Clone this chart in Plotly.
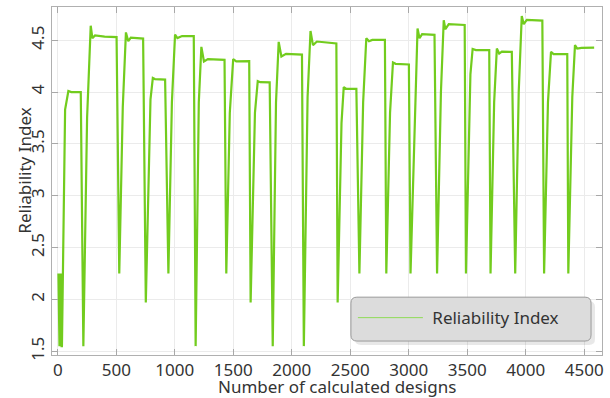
import plotly.graph_objects as go

# x = design number, y = reliability index
designs = [
    5, 8, 11, 14, 17, 20, 23, 26, 29, 32, 35,
    62, 90, 115, 196,
    218, 250, 281, 295, 318, 400, 502,
    525, 555, 582, 602, 624, 729,
    752, 792, 812, 830, 917,
    945, 975, 1002, 1022, 1062, 1162,
    1178, 1205, 1227, 1249, 1283, 1425,
    1440, 1470, 1499, 1525, 1636,
    1648, 1685, 1709, 1730, 1811,
    1837, 1865, 1888, 1911, 1951, 2087,
    2103, 2135, 2160, 2181, 2215, 2381,
    2392, 2425, 2444, 2467, 2552,
    2578, 2610, 2637, 2660, 2688, 2796,
    2808, 2840, 2865, 2888, 3001,
    3015, 3049, 3075, 3092, 3114, 3220,
    3242, 3275, 3299, 3313, 3342, 3478,
    3489, 3527, 3546, 3574, 3688,
    3699, 3730, 3753, 3773, 3796, 3881,
    3910, 3940, 3966, 3983, 4009, 4142,
    4157, 4190, 4216, 4238, 4355,
    4364, 4398, 4421, 4440, 4477, 4585,
]
reliability = [
    2.25, 1.97, 2.25, 1.55, 2.25, 1.55, 2.25, 1.97, 2.25, 1.55, 1.55,
    3.83, 4.01, 4.0, 4.0,
    1.55, 3.75, 4.64, 4.52, 4.545, 4.535, 4.53,
    2.25, 3.85, 4.575, 4.49, 4.525, 4.515,
    1.97, 3.93, 4.135, 4.125, 4.12,
    2.25, 3.9, 4.555, 4.52, 4.54, 4.54,
    1.55, 3.9, 4.436, 4.294, 4.317, 4.31,
    2.25, 3.8, 4.317, 4.295, 4.298,
    1.97, 3.8, 4.106, 4.095, 4.093,
    1.55, 3.9, 4.484, 4.342, 4.368, 4.361,
    1.55, 3.95, 4.589, 4.452, 4.487, 4.468,
    1.97, 3.7, 4.048, 4.03, 4.03,
    2.25, 3.9, 4.519, 4.49, 4.503, 4.503,
    2.25, 3.8, 4.285, 4.272, 4.266,
    2.25, 3.72, 4.612, 4.519, 4.558, 4.551,
    2.25, 4.0, 4.692, 4.606, 4.654, 4.647,
    2.25, 4.17, 4.415, 4.404, 4.404,
    2.25, 3.9, 4.419, 4.371, 4.39, 4.387,
    2.25, 4.0, 4.734, 4.654, 4.695, 4.689,
    2.25, 3.9, 4.387, 4.365, 4.365,
    2.25, 3.95, 4.452, 4.419, 4.426, 4.429,
]
x_ticks = [0, 500, 1000, 1500, 2000, 2500, 3000, 3500, 4000, 4500]
y_ticks = [1.5, 2, 2.5, 3, 3.5, 4, 4.5]
y_tick_text = ["1.5", "2", "2.5", "3", "3.5", "4", "4.5"]
series_name = "Reliability Index"

FONT = "Noto Sans"
GREEN = "#72cc1e"
TEXT = "#333333"

# plot area in pixels
L, R, T, B = 52, 604, 6, 355
W, H = R - L, B - T


def px(xp):
    return (xp - L) / W


def py(yp):
    return (B - yp) / H


def rounded_rect(x0, y0, x1, y1, r):
    rx, ry = r / W, r / H
    X0, X1 = px(x0), px(x1)
    Y0, Y1 = py(y1), py(y0)  # bottom, top in paper
    return (
        f"M{X0 + rx},{Y1} L{X1 - rx},{Y1} Q{X1},{Y1} {X1},{Y1 - ry} "
        f"L{X1},{Y0 + ry} Q{X1},{Y0} {X1 - rx},{Y0} "
        f"L{X0 + rx},{Y0} Q{X0},{Y0} {X0},{Y0 + ry} "
        f"L{X0},{Y1 - ry} Q{X0},{Y1} {X0 + rx},{Y1} Z"
    )


fig = go.Figure()
fig.add_trace(go.Scatter(
    x=designs, y=reliability, mode="lines", name=series_name,
    line=dict(color=GREEN, width=2.2), showlegend=False,
    legendgroup="ri",
))
# legend entry with the thin sample line of the reference
fig.add_trace(go.Scatter(
    x=[None], y=[None], mode="lines", name="\u00a0" + series_name,
    line=dict(color="#8fdb55", width=1), showlegend=True,
    legendgroup="ri",
))

axis_common = dict(
    showline=True, linecolor="#b0b0b0", linewidth=1, mirror="ticks",
    ticks="inside", ticklen=6, tickcolor="#a8a8a8",
    showgrid=True, gridcolor="#ebebeb", gridwidth=1,
    zeroline=False,
    tickfont=dict(family=FONT, size=17, color=TEXT),
)

fig.update_layout(
    width=610, height=398,
    margin=dict(l=L, r=610 - R, t=T, b=398 - B),
    paper_bgcolor="white", plot_bgcolor="white",
    font=dict(family=FONT, size=17, color=TEXT),
    xaxis=dict(range=[-50, 4652], tickvals=x_ticks, **axis_common),
    yaxis=dict(range=[1.4644, 4.82], tickvals=y_ticks, ticktext=y_tick_text,
               tickangle=-90, **axis_common),
    showlegend=True,
    legend=dict(
        x=px(354), y=py(318), xanchor="left", yanchor="middle",
        bgcolor="rgba(0,0,0,0)", borderwidth=0,
        itemwidth=65,
        font=dict(family=FONT, size=17, color=TEXT),
    ),
    shapes=[
        dict(type="path", xref="paper", yref="paper", layer="above",
             path=rounded_rect(356, 301, 597, 345, 6),
             fillcolor="rgba(0,0,0,0.09)", line=dict(width=0)),
        dict(type="path", xref="paper", yref="paper", layer="above",
             path=rounded_rect(352, 297, 593, 341, 6),
             fillcolor="#dcdcdc", line=dict(color="#9a9a9a", width=1)),
    ],
    annotations=[
        dict(text="Reliability Index", xref="paper", yref="paper",
             x=px(24), y=py(170), textangle=-90, showarrow=False,
             xanchor="center", yanchor="middle",
             font=dict(family=FONT, size=17, color=TEXT)),
        dict(text="Number of calculated designs", xref="paper", yref="paper",
             x=px(338.5), y=py(387), showarrow=False,
             xanchor="center", yanchor="middle",
             font=dict(family=FONT, size=17, color=TEXT)),
    ],
)

fig.write_html("out.html")
